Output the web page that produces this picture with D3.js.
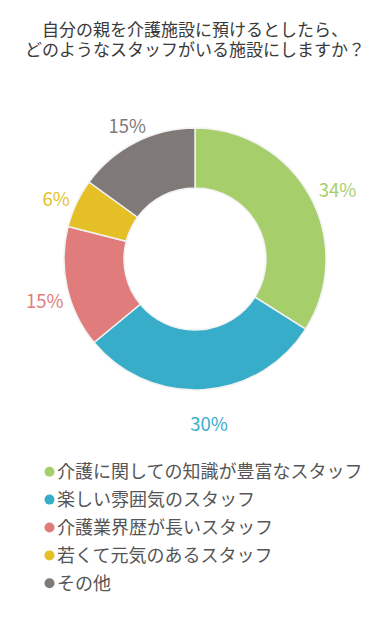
<!DOCTYPE html>
<html><head><meta charset="utf-8">
<script src="https://cdn.jsdelivr.net/npm/d3@7"></script>
<style>
html,body{margin:0;padding:0;background:#fff;}
svg{display:block;font-family:"Noto Sans CJK JP","Noto Sans",sans-serif;}
</style></head>
<body>
<svg id="c" width="390" height="622"></svg>
<script>
const titleLines = ["自分の親を介護施設に預けるとしたら、", "どのようなスタッフがいる施設にしますか？"];
const categories = ["介護に関しての知識が豊富なスタッフ", "楽しい雰囲気のスタッフ", "介護業界歴が長いスタッフ", "若くて元気のあるスタッフ", "その他"];
const values = [34, 30, 15, 6, 15];
const colors = ["#a6cf6b", "#37adc9", "#e07d7c", "#e5bf26", "#7f7a78"];

const svg = d3.select("#c");
const cx = 195, cy = 259, rOut = 131, rIn = 71, rLab = 158;

svg.selectAll("text.title").data(titleLines).enter().append("text")
  .attr("class","title")
  .attr("x",195).attr("y",(d,i)=>36+i*20)
  .attr("text-anchor","middle")
  .attr("font-size",17).attr("fill","#3a3a3a")
  .text(d=>d);

const pie = d3.pie().sort(null).value(d=>d)(values);
const arc = d3.arc().innerRadius(rIn).outerRadius(rOut);
const lab = d3.arc().innerRadius(rLab).outerRadius(rLab);
const g = svg.append("g").attr("transform",`translate(${cx},${cy})`);
g.selectAll("path").data(pie).enter().append("path")
  .attr("d",arc).attr("fill",(d,i)=>colors[i])
  .attr("stroke","#f2f2f2").attr("stroke-width",1.5);
g.selectAll("text").data(pie).enter().append("text")
  .attr("transform",d=>{const c=lab.centroid(d);return `translate(${c[0]+4},${c[1]+8})`;})
  .attr("text-anchor","middle").attr("dy","0.35em")
  .attr("font-size",18.5).attr("fill",(d,i)=>colors[i])
  .text(d=>d.data+"%");

const leg = svg.append("g");
const rows = leg.selectAll("g").data(categories).enter().append("g")
  .attr("transform",(d,i)=>`translate(49.5,${471.7+i*27.9})`);
rows.append("circle").attr("r",5).attr("fill",(d,i)=>colors[i]);
rows.append("text").attr("x",7.5).attr("dy","0.35em")
  .attr("font-size",18).attr("fill","#555").text(d=>d);
</script>
</body></html>
